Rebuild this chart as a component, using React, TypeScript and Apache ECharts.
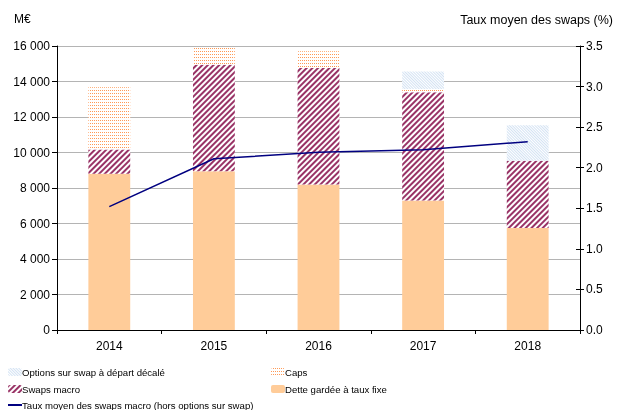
import React, { useEffect, useRef } from "react";
import * as echarts from "echarts";

const years = ["2014", "2015", "2016", "2017", "2018"];
const detteFixe = [8800, 8950, 8200, 7300, 5750];
const swapsMacro = [1370, 6000, 6560, 6100, 3790];
const caps = [3500, 990, 940, 180, 0];
const optionsSwap = [0, 0, 0, 990, 1990];
const tauxMoyen = [1.52, 2.11, 2.19, 2.22, 2.32];

const leftTicks = { min: 0, max: 16000, interval: 2000 };
const rightTicks = { min: 0, max: 3.5, interval: 0.5 };

const FONT = "'Liberation Sans', Arial, sans-serif";

export default function App() {
  const ref = useRef<HTMLDivElement>(null);
  useEffect(() => {
    if (!ref.current) return;
    const chart = echarts.init(ref.current, null, { renderer: "svg" });
    const swapsDecal = {
      symbol: "rect",
      color: "#993366",
      dashArrayX: [1, 0],
      dashArrayY: [1.4, 1.6],
      rotation: -Math.PI / 4,
    };
    const capsDecal = {
      symbol: "rect",
      color: "#FF9955",
      symbolSize: 1,
      dashArrayX: [1, 1],
      dashArrayY: [1, 2],
      rotation: 0,
    };
    const optDecal = {
      symbol: "rect",
      color: "#D3E2F3",
      dashArrayX: [1, 0],
      dashArrayY: [1, 1],
      rotation: Math.PI / 4,
    };
    const legendBase = {
      orient: "horizontal" as const,
      itemWidth: 14,
      itemHeight: 8,
      itemGap: 0,
      padding: 0,
      selectedMode: false,
      textStyle: { fontFamily: FONT, fontSize: 9.6, color: "#000", padding: [0, 0, 0, -5] },
    };
    chart.setOption({
      animation: false,
      textStyle: { fontFamily: FONT },
      grid: { left: 57, right: 37, top: 46, bottom: 80 },
      legend: [
        { ...legendBase, left: 8, top: 367, data: ["Options sur swap à départ décalé"] },
        { ...legendBase, left: 271, top: 367, data: ["Caps"] },
        { ...legendBase, left: 8, top: 384, data: ["Swaps macro"] },
        { ...legendBase, left: 271, top: 384, data: ["Dette gardée à taux fixe"] },
        {
          ...legendBase,
          left: 8,
          top: 400,
          itemHeight: 2,
          data: [{ name: "Taux moyen des swaps macro (hors options sur swap)", icon: "rect" }],
        },
      ],
      graphic: [
        { type: "text", x: 14, y: 13, style: { text: "M€", fontFamily: FONT, fontSize: 12, fill: "#000" } },
        {
          type: "text",
          x: 613,
          y: 13,
          style: {
            text: "Taux moyen des swaps (%)",
            fontFamily: FONT,
            fontSize: 12.5,
            fill: "#000",
            align: "right",
          },
        },
      ],
      xAxis: {
        type: "category",
        data: years,
        axisLine: { lineStyle: { color: "#000", width: 1 } },
        axisTick: { show: true, length: 4, lineStyle: { color: "#000" } },
        axisLabel: { color: "#000", fontSize: 12, fontFamily: FONT, margin: 10 },
      },
      yAxis: [
        {
          type: "value",
          ...leftTicks,
          position: "left",
          axisLine: { show: true, lineStyle: { color: "#000" } },
          axisTick: { show: true, length: 5, lineStyle: { color: "#000" } },
          axisLabel: {
            color: "#000",
            fontSize: 12,
            fontFamily: FONT,
            margin: 7,
            formatter: (v: number) => v.toLocaleString("en-US").replace(/,/g, " "),
          },
          splitLine: { show: true, lineStyle: { color: "#b4b4b4", width: 1 } },
        },
        {
          type: "value",
          ...rightTicks,
          position: "right",
          axisLine: { show: true, lineStyle: { color: "#000" } },
          axisTick: { show: true, length: 4, lineStyle: { color: "#000" } },
          axisLabel: {
            color: "#000",
            fontSize: 12,
            fontFamily: FONT,
            margin: 6,
            formatter: (v: number) => v.toFixed(1),
          },
          splitLine: { show: false },
        },
        {
          type: "value",
          ...rightTicks,
          position: "right",
          axisLine: { show: false },
          axisTick: { show: true, inside: true, length: 4, lineStyle: { color: "#000" } },
          axisLabel: { show: false },
          splitLine: { show: false },
        },
      ],
      series: [
        {
          name: "Dette gardée à taux fixe",
          type: "bar",
          stack: "total",
          barWidth: "40%",
          data: detteFixe,
          itemStyle: { color: "#FFCC99" },
        },
        {
          name: "Swaps macro",
          type: "bar",
          stack: "total",
          data: swapsMacro,
          itemStyle: { color: "#ffffff", decal: swapsDecal },
        },
        {
          name: "Caps",
          type: "bar",
          stack: "total",
          data: caps,
          itemStyle: { color: "#ffffff", decal: capsDecal },
        },
        {
          name: "Options sur swap à départ décalé",
          type: "bar",
          stack: "total",
          data: optionsSwap,
          itemStyle: { color: "#ffffff", decal: optDecal },
        },
        {
          name: "Taux moyen des swaps macro (hors options sur swap)",
          type: "line",
          yAxisIndex: 1,
          data: tauxMoyen,
          symbol: "none",
          showSymbol: false,
          lineStyle: { color: "#000080", width: 1.5 },
          itemStyle: { color: "#000080" },
          z: 5,
        },
      ],
    });
    return () => chart.dispose();
  }, []);
  return (
    <div
      ref={ref}
      style={{ position: "fixed", left: 0, top: 0, width: 617, height: 410 }}
    />
  );
}
